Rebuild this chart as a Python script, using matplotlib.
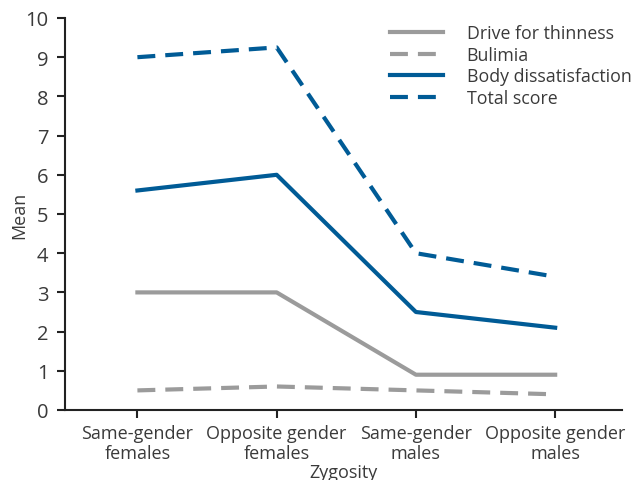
import matplotlib
matplotlib.use("Agg")
import matplotlib.pyplot as plt

# data
groups = ["Same-gender\nfemales", "Opposite gender\nfemales",
          "Same-gender\nmales", "Opposite gender\nmales"]
drive = [3.0, 3.0, 0.9, 0.9]
bulimia = [0.5, 0.6, 0.5, 0.4]
body = [5.6, 6.0, 2.5, 2.1]
total = [9.0, 9.25, 4.0, 3.4]

grey = "#9b9b9b"
blue = "#005b96"
txt = "#3a3a3a"

plt.rcParams["font.family"] = ["Open Sans", "DejaVu Sans"]
plt.rcParams["font.size"] = 12.5

fig = plt.figure(figsize=(6.37, 4.81), dpi=100)
ax = fig.add_axes([65 / 637, 1 - 411 / 481, (622 - 65) / 637, (411 - 19) / 481])

x = range(len(groups))
dash = (0, (4.3, 2.4))
ax.plot(x, drive, color=grey, lw=3, label="Drive for thinness")
ax.plot(x, bulimia, color=grey, lw=3, ls=dash, label="Bulimia")
ax.plot(x, body, color=blue, lw=3, label="Body dissatisfaction")
ax.plot(x, total, color=blue, lw=3, ls=dash, label="Total score")

ax.set_xlim(-0.52, 3.48)
ax.set_ylim(0, 10)
ax.set_yticks(range(11))
ax.set_xticks(list(x))
ax.set_xticklabels(groups, linespacing=1.15, fontsize=13)

for s in ["top", "right"]:
    ax.spines[s].set_visible(False)
for s in ["left", "bottom"]:
    ax.spines[s].set_color("#222222")
    ax.spines[s].set_linewidth(1.5)
ax.tick_params(direction="out", length=6, width=1.5, color="#222222",
               labelcolor=txt)
ax.tick_params(axis="y", pad=6, labelsize=14.5)
ax.tick_params(axis="x", pad=4)

ax.set_ylabel("Mean", color=txt, fontsize=13)
ax.yaxis.set_label_coords(-37 / 557, 0.5)
ax.set_xlabel("Zygosity", color=txt, fontsize=13, labelpad=1)

leg = ax.legend(loc="upper left", bbox_to_anchor=(0.555, 1.025), frameon=False,
                handlelength=3.0, handletextpad=1.3, labelspacing=0.2,
                fontsize=12.8, labelcolor=txt)

fig.savefig("out.png", dpi=100)
